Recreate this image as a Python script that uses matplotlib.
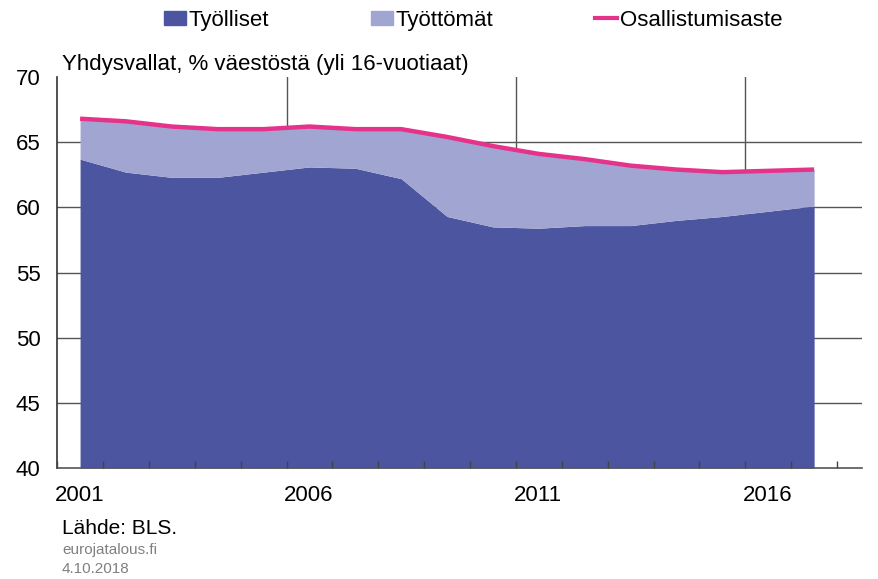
import matplotlib
matplotlib.use("Agg")
import matplotlib.pyplot as plt
import numpy as np
from matplotlib.patches import Patch
from matplotlib.lines import Line2D

plt.rcParams['font.family'] = ['Liberation Sans', 'DejaVu Sans']

years = list(range(2001, 2018))
employed = [63.7, 62.7, 62.3, 62.3, 62.7, 63.1, 63.0, 62.2, 59.3, 58.5, 58.4,
            58.6, 58.6, 59.0, 59.3, 59.7, 60.1]
participation = [66.8, 66.6, 66.2, 66.0, 66.0, 66.2, 66.0, 66.0, 65.4, 64.7, 64.1,
                 63.7, 63.2, 62.9, 62.7, 62.8, 62.9]
unemployed = [p - e for p, e in zip(participation, employed)]
labels = ["Työlliset", "Työttömät", "Osallistumisaste"]
xtick_labels = ["2001", "2006", "2011", "2016"]

c_emp = "#4B55A0"
c_unemp = "#A1A5D2"
c_part = "#E5338B"

fig = plt.figure(figsize=(8.79, 5.79), dpi=100)
ax = fig.add_axes([0.065, 0.1917, 0.916, 0.6753])
ax.set_axisbelow(False)

x = np.array(years) + 0.5
ax.fill_between(x, 40, employed, color=c_emp, lw=0, zorder=1.2)
ax.fill_between(x, employed, participation, color=c_unemp, lw=0, zorder=1.2)
ax.plot(x, participation, color=c_part, lw=3.2, zorder=3, solid_capstyle='butt')

ax.set_xlim(2001, 2018.55)
ax.set_ylim(40, 70)
ax.set_yticks([40, 45, 50, 55, 60, 65, 70])
ax.tick_params(axis='y', length=0, labelsize=16, pad=12)
ax.set_xticks([2001, 2006, 2011, 2016])
ax.set_xticklabels([])
ax.set_xticks(range(2002, 2019), minor=True)
ax.tick_params(axis='x', which='both', direction='in', length=5, color='#444444', width=1)
for lab, yr in zip(xtick_labels, [2001, 2006, 2011, 2016]):
    ax.text(yr - 0.05, 37.9, lab, ha='left', va='center', fontsize=16)

for yv in [45, 50, 55, 60, 65]:
    ax.axhline(yv, color='#555555', lw=1, zorder=1)
for xv in [2006, 2011, 2016]:
    ax.axvline(xv, color='#555555', lw=1, zorder=1)

for s in ['top', 'right']:
    ax.spines[s].set_visible(False)
ax.spines['left'].set_color('#333333')
ax.spines['bottom'].set_color('#555555')
ax.spines['left'].set_linewidth(1.2)
ax.spines['bottom'].set_linewidth(1.2)

fig.text(0.0705, 0.888, "Yhdysvallat, % väestöstä (yli 16-vuotiaat)", fontsize=16,
         ha='left', va='center')

handles = [Patch(color=c_emp), Patch(color=c_unemp),
           Line2D([0], [0], color=c_part, lw=3)]
fig.legend(handles, labels, loc='center', bbox_to_anchor=(0.538, 0.965), ncol=3,
           frameon=False, fontsize=16, handlelength=1.0, handleheight=0.6,
           handletextpad=0.1, columnspacing=4.6)

fig.text(0.0705, 0.0865, "Lähde: BLS.", fontsize=15, ha='left', va='center')
fig.text(0.0705, 0.05, "eurojatalous.fi", fontsize=11, ha='left', va='center', color='#808080')
fig.text(0.0705, 0.017, "4.10.2018", fontsize=11, ha='left', va='center', color='#808080')

fig.savefig("out.png", dpi=100)
